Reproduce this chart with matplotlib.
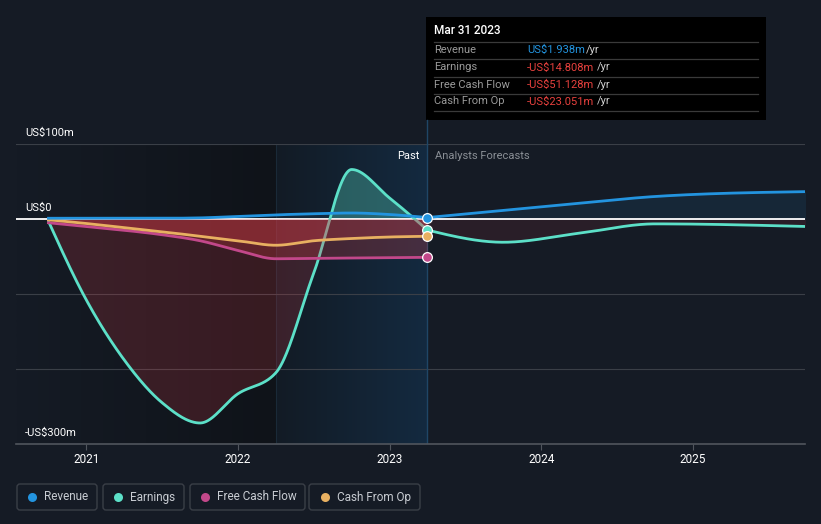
import numpy as np
import matplotlib
matplotlib.use("Agg")
import matplotlib.pyplot as plt
from matplotlib.patches import FancyBboxPatch, Rectangle
from matplotlib.colors import LinearSegmentedColormap

plt.rcParams['font.family'] = ['Roboto', 'DejaVu Sans']

# ---------------- data (US$ millions) ----------------
past_dates = [2020.75, 2021.0, 2021.25, 2021.5, 2021.75, 2022.0, 2022.25,
              2022.5, 2022.75, 2023.0, 2023.25]
revenue_past = [1, 1, 1, 1, 1.5, 3.5, 5.5, 7, 8, 6, 1.938]
earnings_past = [-3, -108, -188, -245, -272, -233, -205, -72, 66, 28, -14.808]
fcf_past = [-5, -10, -15, -21, -29, -42, -53, -52.5, -52, -51.5, -51.128]
cfo_past = [-1, -6, -11.5, -17, -23, -29, -35, -29, -26, -24, -23.051]

fc_dates = [2023.25, 2023.75, 2024.25, 2024.75, 2025.75]
revenue_fc = [1.938, 11.5, 21, 30, 36.5]
earnings_fc = [-14.808, -31, -19, -6.5, -10]

year_ticks = [2021, 2022, 2023, 2024, 2025]
y_labels = {100: "US$100m", 0: "US$0", -300: "-US$300m"}
legend_items = ["Revenue", "Earnings", "Free Cash Flow", "Cash From Op"]

C_REV = '#2394df'
C_EARN = '#5ce0c8'
C_FCF = '#c2488a'
C_CFO = '#e8b061'
BG = '#151b25'


def monotone(x, y, xs):
    """Monotone cubic (d3 curveMonotoneX style) evaluation."""
    x = np.asarray(x, float); y = np.asarray(y, float)
    n = len(x)
    h = np.diff(x); s = np.diff(y) / h
    sg = lambda v: -1.0 if v < 0 else 1.0
    m = np.zeros(n)
    for k in range(1, n - 1):
        p = (s[k-1] * h[k] + s[k] * h[k-1]) / (h[k-1] + h[k])
        m[k] = (sg(s[k-1]) + sg(s[k])) * min(abs(s[k-1]), abs(s[k]), 0.5 * abs(p))
    m[0] = (3 * s[0] - m[1]) / 2 if n > 2 else s[0]
    m[-1] = (3 * s[-1] - m[-2]) / 2 if n > 2 else s[-1]
    out = np.empty_like(xs)
    idx = np.clip(np.searchsorted(x, xs, side='right') - 1, 0, n - 2)
    for i, xv in enumerate(xs):
        k = idx[i]; t = (xv - x[k]) / h[k]
        h00 = 2*t**3 - 3*t**2 + 1; h10 = t**3 - 2*t**2 + t
        h01 = -2*t**3 + 3*t**2; h11 = t**3 - t**2
        out[i] = h00*y[k] + h10*h[k]*m[k] + h01*y[k+1] + h11*h[k]*m[k+1]
    return out


W, H = 821, 524
fig = plt.figure(figsize=(W/100, H/100), dpi=100, facecolor=BG)

L, R, T, B = 16, 805, 144, 444
ax = fig.add_axes([L/W, 1 - B/H, (R-L)/W, (B-T)/H])
ax.set_facecolor(BG)
x0, x1 = 2020.536, 2025.740
ax.set_xlim(x0, x1)
ax.set_ylim(-300, 100)

# background shading
cm_left = LinearSegmentedColormap.from_list('l', [BG, '#0f1319'])
ax.imshow(np.linspace(0, 1, 256).reshape(1, -1), cmap=cm_left, aspect='auto',
          extent=[x0, 2022.25, -300, 100], zorder=0)
cm_hl = LinearSegmentedColormap.from_list('h', ['#121b25', '#142a40'])
ax.imshow(np.linspace(0, 1, 256).reshape(1, -1), cmap=cm_hl, aspect='auto',
          extent=[2022.25, 2023.25, -300, 100], zorder=0)
ax.axvline(2022.25, color='#1a2a38', lw=0.8, zorder=0.5)

# gridlines
for gy in [100, -100, -200]:
    ax.axhline(gy, color='#3a3f47', lw=0.8, zorder=1)
ax.axhline(0, color='white', lw=1.3, zorder=2.5)
ax.axvline(2023.25, color='#1f4666', lw=1.0, zorder=1)

xp = np.linspace(past_dates[0], past_dates[-1], 800)
xf = np.linspace(fc_dates[0], fc_dates[-1], 500)
rev_p = monotone(past_dates, revenue_past, xp)
earn_p = monotone(past_dates, earnings_past, xp)
fcf_p = monotone(past_dates, fcf_past, xp)
cfo_p = monotone(past_dates, cfo_past, xp)
rev_f = monotone(fc_dates, revenue_fc, xf)
earn_f = monotone(fc_dates, earnings_fc, xf)

# fills
ax.fill_between(xp, earn_p, 0, where=earn_p < 0, interpolate=True,
                color='#dc3c46', alpha=0.2, lw=0, zorder=2)
ax.fill_between(xp, earn_p, 0, where=earn_p > 0, interpolate=True,
                color=C_EARN, alpha=0.32, lw=0, zorder=2)
ax.fill_between(xf, earn_f, 0, color='#dc3c46', alpha=0.1, lw=0, zorder=2)
ax.fill_between(xf, rev_f, 0, color=C_REV, alpha=0.1, lw=0, zorder=2)
ax.fill_between(xp, rev_p, 0, color=C_REV, alpha=0.1, lw=0, zorder=2)

ax.plot(xp, earn_p, color=C_EARN, lw=2.0, zorder=3, solid_capstyle='round')
ax.plot(xf, earn_f, color=C_EARN, lw=2.0, zorder=3)

ax.fill_between(xp, fcf_p, 0, color='#dc3c46', alpha=0.25, lw=0, zorder=4)
ax.fill_between(xp, cfo_p, 0, color='#dc3c46', alpha=0.25, lw=0, zorder=4)

ax.plot(xp, fcf_p, color=C_FCF, lw=2.0, zorder=5)
ax.plot(xp, cfo_p, color=C_CFO, lw=2.0, zorder=5)
ax.plot(xp, rev_p, color=C_REV, lw=2.0, zorder=5)
ax.plot(xf, rev_f, color=C_REV, lw=2.0, zorder=5)

for vals, c in [(revenue_past, C_REV), (earnings_past, C_EARN),
                (fcf_past, C_FCF), (cfo_past, C_CFO)]:
    ax.plot([past_dates[-1]], [vals[-1]], 'o', ms=7, mfc=c, mec='white',
            mew=0.9, zorder=6)

# axes styling
for s in ['top', 'right', 'left']:
    ax.spines[s].set_visible(False)
ax.spines['bottom'].set_color('#50555d')
ax.spines['bottom'].set_linewidth(1.2)
ax.set_yticks([])
ax.set_xticks(year_ticks)
ax.set_xticklabels([str(y) for y in year_ticks])
ax.tick_params(axis='x', colors='#50555d', length=4, width=0.8, pad=2.5,
               labelcolor='white', labelsize=8.5)

for yv, txt in y_labels.items():
    ax.annotate(txt, xy=(0, yv), xycoords=('axes fraction', 'data'),
                xytext=(9, 6), textcoords='offset pixels', color='white',
                fontsize=8, ha='left', va='bottom')

ax.annotate("Past", xy=(2023.25, 100), xytext=(-8, -12), textcoords='offset pixels',
            color='white', fontsize=8, ha='right', va='center')
ax.annotate("Analysts Forecasts", xy=(2023.25, 100), xytext=(8, -12),
            textcoords='offset pixels', color='#8a8f96', fontsize=8,
            ha='left', va='center')

# overlay for tooltip and legend (pixel coordinates)
ov = fig.add_axes([0, 0, 1, 1], facecolor='none')
ov.set_xlim(0, W); ov.set_ylim(H, 0); ov.axis('off')
ov.plot([426.5, 426.5], [120, 144], color='#1f4666', lw=1.0)
ov.add_patch(Rectangle((426, 17), 340, 103, facecolor='black', edgecolor='none'))
ov.text(434, 31, "Mar 31 2023", color='white', fontsize=8.5, va='center',
        ha='left', fontweight='medium')
for ly in [41.5, 59, 76.5, 93.5, 110.5]:
    ov.plot([434, 758], [ly, ly], color='#3a3a3a', lw=0.9)
rows = [("Revenue", "US$1.938m", C_REV, 586, 50),
        ("Earnings", "-US$14.808m", '#e8413e', 597, 67.5),
        ("Free Cash Flow", "-US$51.128m", '#e8413e', 597, 84.5),
        ("Cash From Op", "-US$23.051m", '#e8413e', 597, 101.5)]
for lab, val, col, yrx, ry in rows:
    ov.text(434, ry, lab, color='#9a9a9a', fontsize=8, va='center', ha='left')
    ov.text(527, ry, val, color=col, fontsize=8, va='center', ha='left')
    ov.text(yrx, ry, "/yr", color='#cfcfcf', fontsize=8, va='center', ha='left')

leg = [(17, 97, 31.5, 44, C_REV), (103, 184, 118, 130, C_EARN),
       (190, 305, 204.5, 217, C_FCF), (309, 420, 324.5, 337, C_CFO)]
for (bx0, bx1, cx, tx, c), name in zip(leg, legend_items):
    ov.add_patch(FancyBboxPatch((bx0, 484), bx1 - bx0, 26,
                                boxstyle='round,pad=0,rounding_size=3',
                                facecolor='none', edgecolor='#3a3f47', lw=1.0))
    ov.plot([cx], [496.5], 'o', ms=6.5, color=c, mec='none')
    ov.text(tx, 497, name, color='#c8ccd2', fontsize=8.5, va='center', ha='left')

fig.savefig('out.png', dpi=100, facecolor=BG)
